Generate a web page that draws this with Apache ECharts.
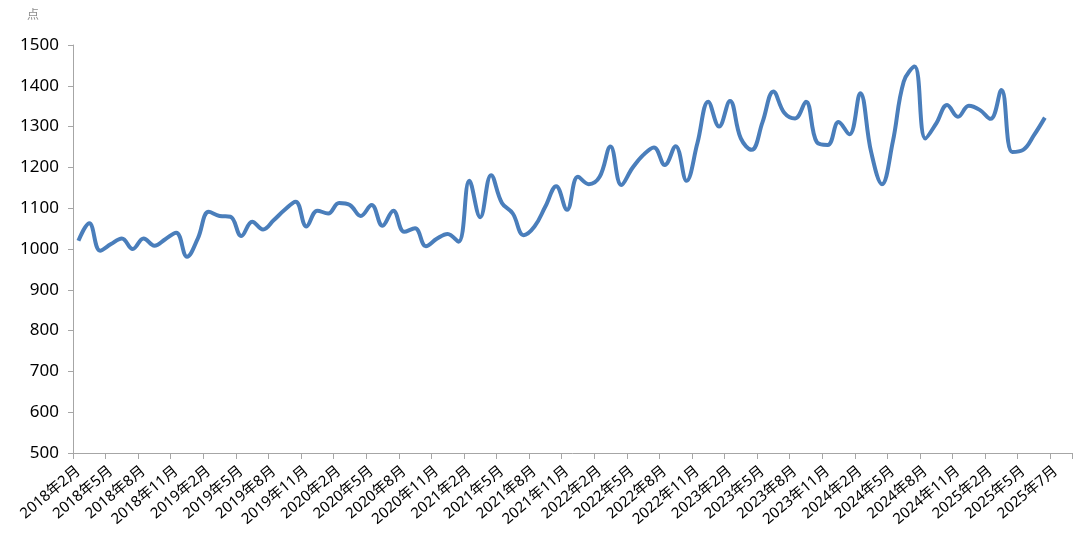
<!DOCTYPE html>
<html>
<head>
<meta charset="utf-8">
<script src="https://cdn.jsdelivr.net/npm/echarts@6/dist/echarts.min.js"></script>
<style>
html,body{margin:0;padding:0;background:#fff;}
#chart{width:1080px;height:557px;}
</style>
</head>
<body>
<div id="chart"></div>
<script>
// Category slots (monthly), two trailing empty slots as in the reference axis
var months = [
 '2018年2月','2018年3月','2018年4月','2018年5月','2018年6月','2018年7月','2018年8月','2018年9月','2018年10月','2018年11月','2018年12月',
 '2019年1月','2019年2月','2019年3月','2019年4月','2019年5月','2019年6月','2019年7月','2019年8月','2019年9月','2019年10月','2019年11月','2019年12月',
 '2020年1月','2020年2月','2020年3月','2020年4月','2020年5月','2020年6月','2020年7月','2020年8月','2020年9月','2020年10月','2020年11月','2020年12月',
 '2021年1月','2021年2月','2021年3月','2021年4月','2021年5月','2021年6月','2021年7月','2021年8月','2021年9月','2021年10月','2021年11月','2021年12月',
 '2022年1月','2022年2月','2022年3月','2022年4月','2022年5月','2022年6月','2022年7月','2022年8月','2022年9月','2022年10月','2022年11月','2022年12月',
 '2023年1月','2023年2月','2023年3月','2023年4月','2023年5月','2023年6月','2023年7月','2023年8月','2023年9月','2023年10月','2023年11月','2023年12月',
 '2024年1月','2024年2月','2024年3月','2024年4月','2024年5月','2024年6月','2024年7月','2024年8月','2024年9月','2024年10月','2024年11月','2024年12月',
 '2025年1月','2025年2月','2025年3月','2025年4月','2025年5月','2025年6月','2025年7月','',''
];

// Tick labels shown every third slot
var tickLabels = [
 '2018年2月','2018年5月','2018年8月','2018年11月',
 '2019年2月','2019年5月','2019年8月','2019年11月',
 '2020年2月','2020年5月','2020年8月','2020年11月',
 '2021年2月','2021年5月','2021年8月','2021年11月',
 '2022年2月','2022年5月','2022年8月','2022年11月',
 '2023年2月','2023年5月','2023年8月','2023年11月',
 '2024年2月','2024年5月','2024年8月','2024年11月',
 '2025年2月','2025年5月','2025年7月'
];

// Index values (点)
var values = [
 1020,1063,996,1012,1026,1000,1026,1008,1024,1040,981,
 1026,1091,1081,1079,1032,1067,1048,1071,1096,1116,1055,1094,
 1087,1113,1108,1081,1108,1057,1094,1042,1051,1007,1025,1037,
 1018,1167,1078,1181,1113,1087,1034,1055,1104,1154,1096,1177,
 1159,1177,1251,1157,1198,1230,1249,1206,1252,1167,1259,1361,
 1300,1363,1271,1243,1311,1386,1334,1320,1361,1262,1255,1311,
 1281,1382,1238,1159,1263,1410,1447,1271,1308,1353,1324,1351,
 1341,1319,1390,1238,1243,1279,1322
];

var yTicks = {min: 500, max: 1500, step: 100};
var unitLabel = '点';

var chart = echarts.init(document.getElementById('chart'), null, {renderer: 'canvas'});
var showEvery3 = function (idx) { return idx % 3 === 0; };
chart.setOption({
  animation: false,
  backgroundColor: '#ffffff',
  grid: {left: 73, right: 8, top: 45, bottom: 104, containLabel: false},
  graphic: [{
    type: 'text', left: 27, top: 8,
    style: {text: unitLabel, fill: '#8c8c8c', fontSize: 12, fontFamily: 'Noto Sans CJK SC'}
  }],
  xAxis: {
    type: 'category',
    data: months,
    boundaryGap: true,
    axisLine: {show: true, lineStyle: {color: '#a6a6a6', width: 1}},
    axisTick: {show: true, interval: showEvery3, length: 6, lineStyle: {color: '#a6a6a6'}},
    axisLabel: {
      interval: showEvery3,
      rotate: 40,
      margin: 16,
      color: '#000000',
      fontSize: 15,
      fontFamily: 'Noto Sans, Noto Sans CJK SC',
      formatter: function (v, idx) { return tickLabels[idx / 3] || ''; }
    },
    splitLine: {show: false}
  },
  yAxis: {
    type: 'value',
    min: yTicks.min, max: yTicks.max, interval: yTicks.step,
    axisLine: {show: true, lineStyle: {color: '#a6a6a6', width: 1}},
    axisTick: {show: true, length: 5, lineStyle: {color: '#a6a6a6'}},
    axisLabel: {color: '#000000', fontSize: 17, margin: 14, fontFamily: 'Noto Sans',
      formatter: function (v) { return String(v); }},
    splitLine: {show: false}
  },
  series: [{
    type: 'line',
    data: values,
    smooth: 0.4,
    symbol: 'none',
    lineStyle: {color: '#4a7ebb', width: 4},
    itemStyle: {color: '#4a7ebb'}
  }]
});
</script>
</body>
</html>
